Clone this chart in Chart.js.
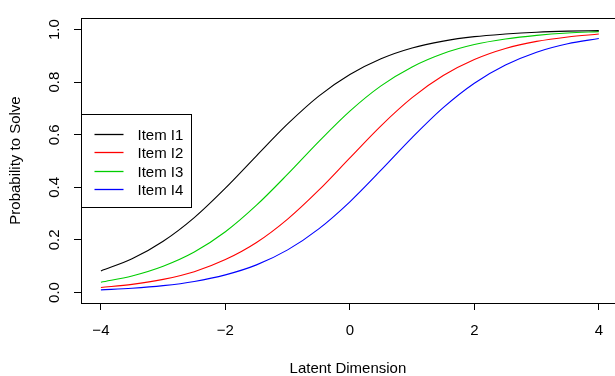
<!DOCTYPE html>
<html>
<head>
<meta charset="utf-8">
<script src="https://cdn.jsdelivr.net/npm/chart.js@4"></script>
<style>
  html, body { margin: 0; padding: 0; background: #fff; overflow: hidden; }
</style>
</head>
<body>
<canvas id="chart" width="615" height="376"></canvas>
<script>
// ---------- DATOS ----------
const theta = [-4, -3.5, -3, -2.5, -2, -1.5, -1, -0.5, 0, 0.5, 1, 1.5, 2, 2.5, 3, 3.5, 4];
const itemI1 = [0.082, 0.128, 0.195, 0.285, 0.397, 0.520, 0.641, 0.747, 0.829, 0.889, 0.930, 0.956, 0.973, 0.983, 0.990, 0.994, 0.996];
const itemI2 = [0.019, 0.031, 0.050, 0.079, 0.125, 0.190, 0.279, 0.389, 0.512, 0.634, 0.741, 0.825, 0.886, 0.928, 0.955, 0.972, 0.983];
const itemI3 = [0.039, 0.063, 0.100, 0.154, 0.231, 0.332, 0.450, 0.574, 0.690, 0.786, 0.858, 0.909, 0.943, 0.964, 0.978, 0.987, 0.992];
const itemI4 = [0.010, 0.016, 0.026, 0.042, 0.067, 0.105, 0.162, 0.242, 0.345, 0.465, 0.589, 0.703, 0.796, 0.865, 0.914, 0.946, 0.966];
const itemNames = ['Item I1', 'Item I2', 'Item I3', 'Item I4'];
const itemColors = ['#000000', '#FF0000', '#00CD00', '#0000FF'];
const xTicks = [-4, -2, 0, 2, 4];
const yTicks = [0, 0.2, 0.4, 0.6, 0.8, 1.0];

const FONT = '"Liberation Sans", Arial, Helvetica, sans-serif';

function toPoints(vals) {
    return vals.map((v, i) => ({ x: theta[i], y: v }));
}

// ---------- CAJA Y LEYENDA ----------
const boxAndLegend = {
    id: 'boxAndLegend',
    afterDraw(chart) {
        const c = chart.ctx;
        const a = chart.chartArea;
        c.save();
        c.strokeStyle = '#000';
        c.lineWidth = 1;
        // caja del gráfico (el borde derecho queda fuera)
        c.strokeRect(Math.round(a.left) + 0.5, Math.round(a.top) + 0.5, a.right - a.left + 20, Math.round(a.bottom - a.top));

        // leyenda a la izquierda
        const bx = Math.round(a.left) + 0.5;
        const bh = 93, bw = 110;
        const by = Math.round((a.top + a.bottom) / 2 - bh / 2) + 0.5;
        c.fillStyle = '#fff';
        c.fillRect(bx, by, bw, bh);
        c.strokeStyle = '#000';
        c.strokeRect(bx, by, bw, bh);
        c.font = '15px ' + FONT;
        c.textBaseline = 'middle';
        c.textAlign = 'left';
        itemNames.forEach((name, i) => {
            const yy = Math.round(by + 19 + i * 18.6) + 0.5;
            c.strokeStyle = itemColors[i];
            c.lineWidth = 1.3;
            c.beginPath();
            c.moveTo(bx + 13, yy);
            c.lineTo(bx + 42, yy);
            c.stroke();
            c.fillStyle = '#000';
            c.fillText(name, bx + 56, yy + 1);
        });
        c.restore();
    }
};

// ---------- GRÁFICA ----------
const ctx = document.getElementById('chart');
const chart = new Chart(ctx, {
    type: 'line',
    data: {
        datasets: [itemI1, itemI2, itemI3, itemI4].map((vals, i) => ({
            label: itemNames[i],
            data: toPoints(vals),
            borderColor: itemColors[i],
            backgroundColor: itemColors[i],
            borderWidth: 1.1,
            pointRadius: 0,
            fill: false,
            cubicInterpolationMode: 'monotone'
        }))
    },
    options: {
        responsive: false,
        animation: false,
        layout: { padding: { top: 8, right: 0, left: 0, bottom: 0 } },
        plugins: {
            legend: { display: false },
            tooltip: { enabled: false }
        },
        scales: {
            x: {
                type: 'linear',
                min: -4.32,
                max: 4.257,
                afterBuildTicks: s => { s.ticks = xTicks.map(v => ({ value: v })); },
                afterFit: s => { s.height = 73; },
                border: { display: false },
                grid: { drawOnChartArea: false, drawTicks: true, tickLength: 7, color: '#000' },
                ticks: {
                    color: '#000',
                    font: { family: FONT, size: 15 },
                    padding: 12,
                    maxRotation: 0,
                    callback: v => (v < 0 ? '\u2212' + Math.abs(v) : String(v))
                },
                title: {
                    display: true,
                    text: 'Latent Dimension',
                    color: '#000',
                    font: { family: FONT, size: 15, lineHeight: 1 },
                    padding: { top: 0, bottom: 0 }
                }
            },
            y: {
                type: 'linear',
                min: -0.04,
                max: 1.044,
                afterBuildTicks: s => { s.ticks = yTicks.map(v => ({ value: v })); },
                afterFit: s => { s.width = 81; },
                border: { display: false },
                grid: { drawOnChartArea: false, drawTicks: true, tickLength: 7, color: '#000' },
                ticks: {
                    color: '#000',
                    font: { family: FONT, size: 15 },
                    padding: 9,
                    minRotation: 90,
                    maxRotation: 90,
                    crossAlign: 'center',
                    callback: v => v.toFixed(1)
                },
                title: {
                    display: true,
                    text: 'Probability to Solve',
                    color: '#000',
                    font: { family: FONT, size: 15, lineHeight: 1.2 },
                    padding: { top: 7, bottom: 0 }
                }
            }
        }
    },
    plugins: [boxAndLegend]
});
</script>
</body>
</html>
